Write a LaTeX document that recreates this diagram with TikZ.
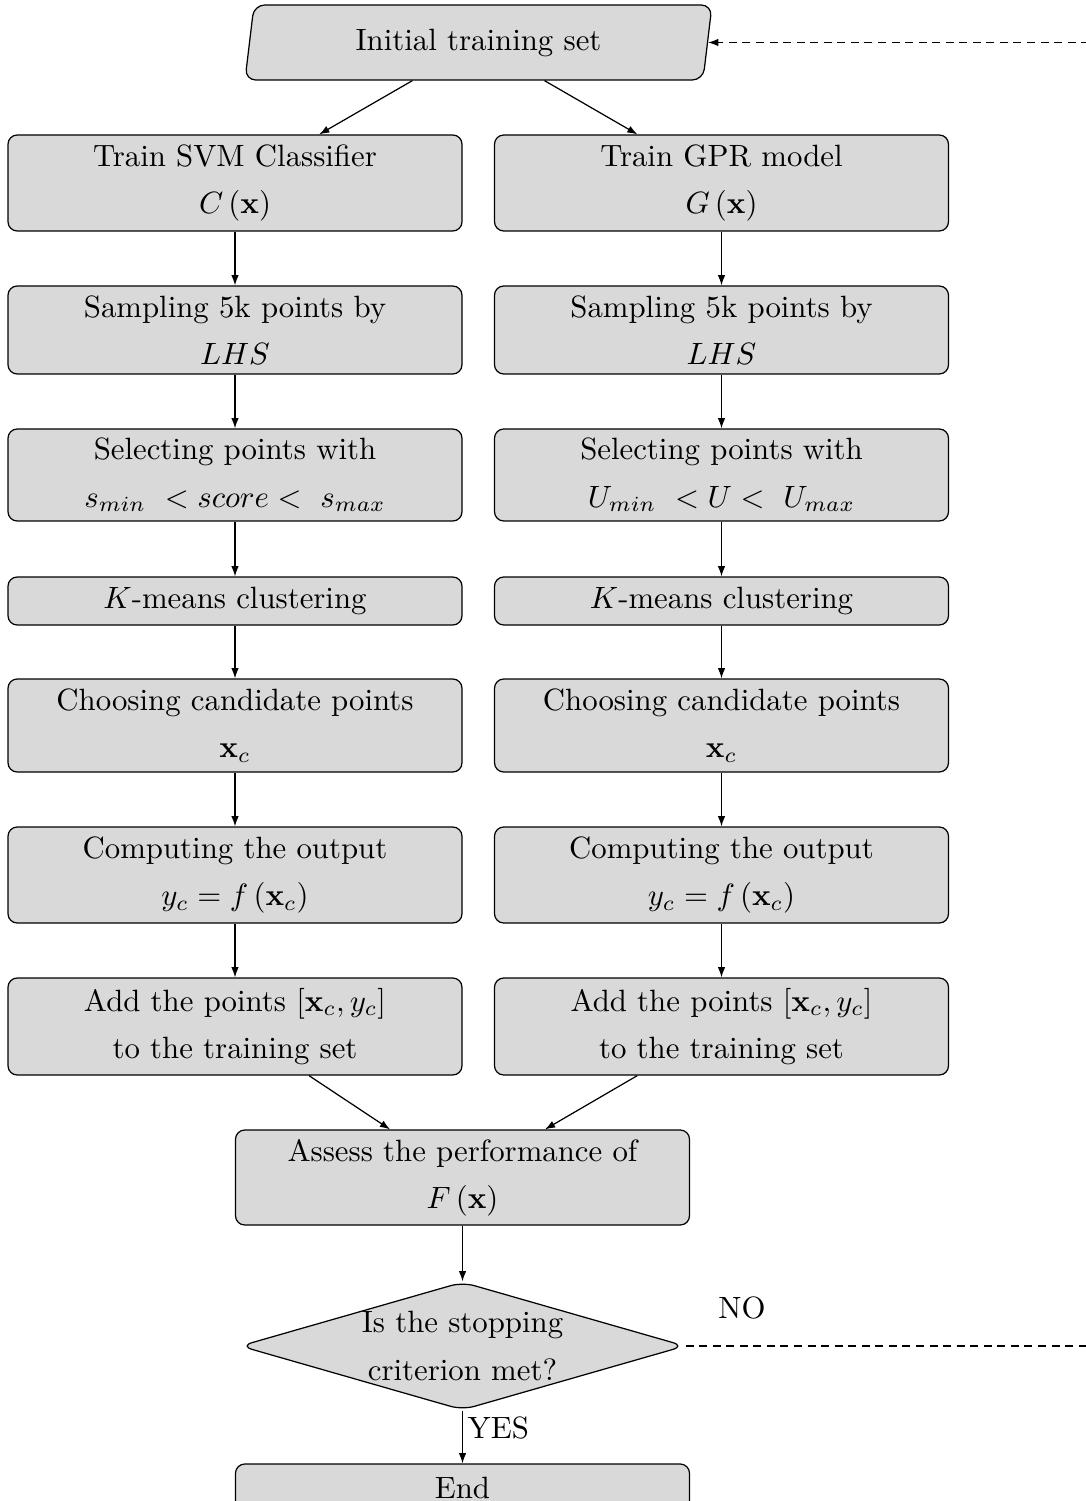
\documentclass[tikz,border=0pt]{standalone}
\usetikzlibrary{shapes.geometric,arrows.meta}
\def\un{0.3247pt}
\tikzset{
  base/.style={draw, fill=gray!30, align=center, inner sep=0pt, line width=0.4pt,
    font=\fontsize{10}{15.3}\selectfont},
  box/.style={base, rounded corners=3pt, minimum width=454*\un},
  para/.style={base, trapezium, trapezium left angle=72, trapezium right angle=108,
    trapezium stretches body=true, rounded corners=3.5pt, minimum width=467*\un, minimum height=75*\un},
  dec/.style={base, diamond, rounded corners=4pt, minimum width=445*\un, minimum height=128*\un},
  dectext/.style={align=center, inner sep=0pt, font=\fontsize{10}{15.3}\selectfont},
  arr/.style={-{Latex[length=3.3pt,width=2.4pt]}, line width=0.4pt},
  dsh/.style={arr, dash pattern=on 2.6pt off 1.8pt},
  lbl/.style={font=\fontsize{10}{12}\selectfont, inner sep=0pt}
}
\begin{document}
\begin{tikzpicture}[x=\un, y=-\un]
\useasboundingbox (0,0) rectangle (1086,1501);
\node[para] (init) at (478.5,42.5) {Initial training set};

\node[box, minimum height=96*\un] (l1) at (235,183) {Train SVM Classifier\\ $C\left(\mathbf{x}\right)$};
\node[box, minimum height=96*\un] (r1) at (721.5,183) {Train GPR model\\ $G\left(\mathbf{x}\right)$};

\node[box, minimum height=88*\un] (l2) at (235,330) {Sampling 5k points by\\ $LHS$};
\node[box, minimum height=88*\un] (r2) at (721.5,330) {Sampling 5k points by\\ $LHS$};

\node[box, minimum height=92*\un] (l3) at (235,475) {Selecting points with\\ $s_{min}\ < score <\ s_{max}$};
\node[box, minimum height=92*\un] (r3) at (721.5,475) {Selecting points with\\ $U_{min}\ < U <\ U_{max}$};

\node[box, minimum height=48*\un] (l4) at (235,601) {$K$-means clustering};
\node[box, minimum height=48*\un] (r4) at (721.5,601) {$K$-means clustering};

\node[box, minimum height=93*\un] (l5) at (235,725.5) {Choosing candidate points\\ $\mathbf{x}_c$};
\node[box, minimum height=93*\un] (r5) at (721.5,725.5) {Choosing candidate points\\ $\mathbf{x}_c$};

\node[box, minimum height=96*\un] (l6) at (235,875) {Computing the output\\ $y_c=f\left(\mathbf{x}_c\right)$};
\node[box, minimum height=96*\un] (r6) at (721.5,875) {Computing the output\\ $y_c=f\left(\mathbf{x}_c\right)$};

\node[box, minimum height=97*\un] (l7) at (235,1026.5) {Add the points $[\mathbf{x}_c,y_c]$\\ to the training set};
\node[box, minimum height=97*\un] (r7) at (721.5,1026.5) {Add the points $[\mathbf{x}_c,y_c]$\\ to the training set};

\node[box, minimum height=95*\un] (assess) at (462.5,1177.5) {Assess the performance of\\ $F\left(\mathbf{x}\right)$};
\node[dec] (stop) at (462.5,1346) {};
\node[dectext] (stoptext) at (stop.center) {Is the stopping\\ criterion met?};
\node[box, minimum height=48*\un] (end) at (462.5,1488) {End};

\draw[arr] (init) -- (l1);
\draw[arr] (init) -- (r1);
\draw[arr] (l1) -- (l2);
\draw[arr] (l2) -- (l3);
\draw[arr] (l3) -- (l4);
\draw[arr] (l4) -- (l5);
\draw[arr] (l5) -- (l6);
\draw[arr] (l6) -- (l7);
\draw[arr] (r1) -- (r2);
\draw[arr] (r2) -- (r3);
\draw[arr] (r3) -- (r4);
\draw[arr] (r4) -- (r5);
\draw[arr] (r5) -- (r6);
\draw[arr] (r6) -- (r7);
\draw[arr] (l7) -- (assess);
\draw[arr] (r7) -- (assess);
\draw[arr] (assess) -- (stop);
\draw[arr] (stop.south) -- node[lbl, anchor=west, xshift=1.5pt, pos=0.32] {YES} (end.north);
\coordinate (turn) at (1130,1346);
\draw[dsh] (stop.east) -- (turn) |- (init);
\node[lbl] (no) at (742,1308) {NO};
\end{tikzpicture}
\end{document}
